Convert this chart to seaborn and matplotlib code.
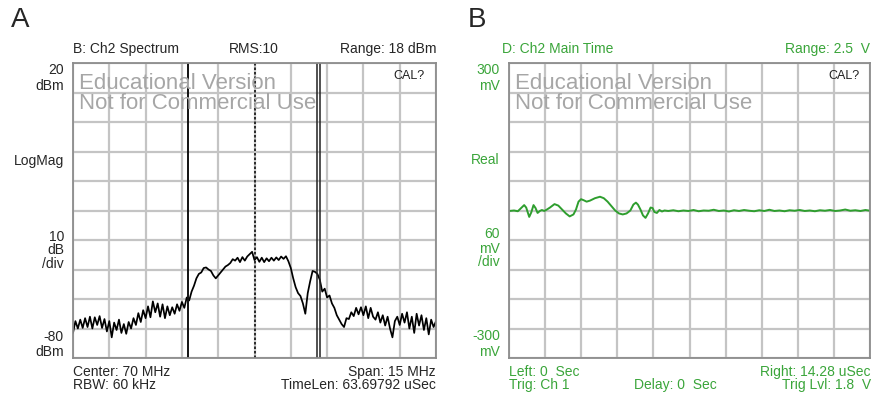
import numpy as np
import matplotlib
matplotlib.use("Agg")
import matplotlib.pyplot as plt
import seaborn as sns

sns.set_style("white")
plt.rcParams['font.family'] = ['Liberation Sans', 'DejaVu Sans']

# ---------------- data: panel A (spectrum) ----------------
freq_start = 62.5   # MHz
freq_stop = 77.5    # MHz
spectrum_dbm = [
    # 62.5 - 65.0
    -71.5, -67.5, -70.0, -67.0, -69.8, -66.5, -69.5, -66.0, -70.0, -66.2,
    -68.8, -65.8, -69.8, -66.8, -71.0, -67.5, -73.0, -68.0, -70.5, -67.0,
    -71.5, -68.5, -71.8, -67.8, -70.0, -66.5,
    # 65.1 - 67.1
    -68.8, -64.8, -67.8, -63.8, -66.5, -62.5, -66.2, -60.8, -64.5, -61.5,
    -66.0, -61.8, -66.5, -62.5, -65.5, -62.8, -65.0, -61.8, -64.0, -61.0,
    -63.0,
    # 67.2 - 68.9
    -59.5, -60.5, -57.5, -55.5, -53.0, -51.5, -51.0, -49.5, -49.3, -50.0,
    -50.5, -52.0, -53.0, -52.0, -51.0, -50.0, -49.0, -48.5,
    # 69.0 - 71.4
    -47.8, -46.5, -47.0, -46.0, -47.5, -45.8, -47.0, -45.6, -44.8, -44.0,
    -46.8, -45.8, -47.4, -46.0, -47.5, -46.2, -47.2, -46.0, -47.0, -45.9,
    -46.8, -45.6, -46.4, -45.5, -47.2,
    # 71.5 - 73.6
    -49.5, -53.0, -56.0, -58.0, -59.0, -61.5, -65.0, -58.0, -54.0, -50.5,
    -50.8, -51.5, -53.5, -57.5, -56.5, -59.5, -58.8, -61.5, -63.0, -65.5,
    -67.0, -68.5,
    # 73.7 - 77.5
    -69.5, -66.5, -66.8, -64.5, -65.8, -63.0, -65.2, -62.8, -65.5, -62.5,
    -66.5, -63.0, -66.0, -67.0, -64.5, -68.0, -65.5, -69.0, -66.0, -70.0,
    -73.0, -67.5, -66.0, -68.8, -65.0, -68.0, -64.5, -70.0, -66.0, -71.5,
    -65.0, -69.0, -65.5, -70.5, -66.5, -72.0, -67.0, -69.5, -67.5,
]
marker_solid = 67.27
marker_dotted = 70.0
marker_double = [72.57, 72.71]
a_ymin, a_ymax = -80, 20

# ---------------- data: panel B (time) ----------------
time_us = [
    0.0, 0.2, 0.35, 0.5, 0.6, 0.68, 0.8, 0.88, 0.97, 1.05, 1.13, 1.22, 1.3,
    1.4, 1.5, 1.62, 1.8, 1.95, 2.1, 2.25, 2.4, 2.55, 2.65, 2.75, 2.85, 2.95,
    3.07, 3.2, 3.4, 3.6, 3.75, 3.9, 4.05, 4.2, 4.35, 4.5, 4.65, 4.8, 4.92,
    5.02, 5.1, 5.2, 5.3, 5.4, 5.5, 5.6, 5.68, 5.75, 5.85, 5.95, 6.05, 6.15,
    6.3, 6.5, 6.7, 6.9, 7.1, 7.3, 7.5, 7.7, 7.9, 8.1, 8.3, 8.5, 8.7, 8.9,
    9.1, 9.3, 9.5, 9.7, 9.9, 10.1, 10.3, 10.5, 10.7, 10.9, 11.1, 11.3, 11.5,
    11.7, 11.9, 12.1, 12.3, 12.5, 12.7, 12.9, 13.1, 13.3, 13.5, 13.7, 13.9,
    14.1, 14.28,
]
voltage_mv = [
    -1, 0, -1.5, 6, 11, 6, -13, -4, 11, 5, -5, -1, 1,
    -1, 2, 6, 13, 10, 2, -6, -12, -8, 2, 18, 23, 21,
    18, 20, 25, 28, 25, 18, 9, 0, -6, -8, -6, 0, 12,
    16, 12, 2, -10, -15, -6, 6, 5, -3, -5, 1, -2, 0,
    -1, 0.5, -1.5, 0, -1, 1, -1.5, 0, -0.5, 1.5, -1, 0, -2, 0.5,
    -1, 1, -0.5, -1.5, 0.5, -1, 1.5, -1, 0, -1.5, 0.5, -0.5, 1,
    -1, 0, -1.5, 0.5, -0.5, 1, -1, 0, 2, -0.5, 0.5, -1,
    1, -0.5,
]
b_xmax = 14.28
b_ymin, b_ymax = -300, 300

# ---------------- figure ----------------
W, H = 873, 397
fig = plt.figure(figsize=(W / 100, H / 100), dpi=100)

def px_axes(x0, y0, x1, y1):
    return fig.add_axes([x0 / W, 1 - y1 / H, (x1 - x0) / W, (y1 - y0) / H])

def ft(x, y, s, **kw):
    kw.setdefault('va', 'center')
    kw.setdefault('fontsize', 10)
    fig.text(x / W, 1 - y / H, s, **kw)

GRID = '#c4c4c4'
FRAME = '#8c8c8c'
GREEN = '#3aa53a'
LINE_GREEN = '#2e9e2e'
WM = '#a6a6a6'

def style_axes(ax, xmin, xmax, ymin, ymax):
    ax.set_xlim(xmin, xmax)
    ax.set_ylim(ymin, ymax)
    ax.set_xticks(np.linspace(xmin, xmax, 11))
    ax.set_yticks(np.linspace(ymin, ymax, 11))
    ax.tick_params(length=0, labelbottom=False, labelleft=False)
    ax.grid(True, color=GRID, lw=1.6)
    ax.set_axisbelow(True)
    for sp in ax.spines.values():
        sp.set_color(FRAME)
        sp.set_linewidth(1.3)
    ax.set_xlabel('')
    ax.set_ylabel('')

def watermark(ax):
    ax.text(0.017, 0.912, 'Educational Version', transform=ax.transAxes,
            color=WM, fontsize=16, va='baseline')
    ax.text(0.017, 0.845, 'Not for Commercial Use', transform=ax.transAxes,
            color=WM, fontsize=16, va='baseline')
    ax.text(0.97, 0.955, 'CAL?', transform=ax.transAxes, ha='right', va='center',
            fontsize=9, color='#222222')

# Panel A
axA = px_axes(73, 63, 436, 358)
freq = np.linspace(freq_start, freq_stop, len(spectrum_dbm))
sns.lineplot(x=freq, y=spectrum_dbm, ax=axA, color='black', lw=1.25)
style_axes(axA, freq_start, freq_stop, a_ymin, a_ymax)
axA.axvline(marker_solid, color='#111111', lw=1.4)
axA.axvline(marker_dotted, color='#111111', lw=1.2, ls=(0, (1.5, 1.2)))
for m in marker_double:
    axA.axvline(m, color='#222222', lw=1.1)
watermark(axA)

# Panel B
axB = px_axes(509, 63, 870, 358)
sns.lineplot(x=time_us, y=voltage_mv, ax=axB, color=LINE_GREEN, lw=1.4)
style_axes(axB, 0, b_xmax, b_ymin, b_ymax)
watermark(axB)

# Panel letters
ft(11, 20, 'A', fontsize=20)
ft(468, 20, 'B', fontsize=20)

# Panel A header / labels
ft(73, 49, 'B: Ch2 Spectrum')
ft(254, 49, 'RMS:10', ha='center')
ft(436, 49, 'Range: 18 dBm', ha='right')
for y, s in [(70, '20'), (86.5, 'dBm'), (161, 'LogMag'), (237, '10'),
             (250.5, 'dB'), (263.5, '/div'), (337, '-80'), (352.5, 'dBm')]:
    ft(64, y, s, ha='right')
ft(73, 372, 'Center: 70 MHz')
ft(73, 385, 'RBW: 60 kHz')
ft(436, 372, 'Span: 15 MHz', ha='right')
ft(436, 385, 'TimeLen: 63.69792 uSec', ha='right')

# Panel B header / labels
ft(502, 49, 'D: Ch2 Main Time', color=GREEN)
ft(870, 49, 'Range: 2.5  V', ha='right', color=GREEN)
for y, s in [(70, '300'), (85.5, 'mV'), (159.5, 'Real'), (234, '60'),
             (249, 'mV'), (262, '/div'), (336.5, '-300'), (352, 'mV')]:
    ft(500, y, s, ha='right', color=GREEN)
ft(509, 372, 'Left: 0  Sec', color=GREEN)
ft(509, 385, 'Trig: Ch 1', color=GREEN)
ft(675, 385, 'Delay: 0  Sec', ha='center', color=GREEN)
ft(871, 372, 'Right: 14.28 uSec', ha='right', color=GREEN)
ft(871, 385, 'Trig Lvl: 1.8  V', ha='right', color=GREEN)

fig.savefig('out.png', dpi=100)
